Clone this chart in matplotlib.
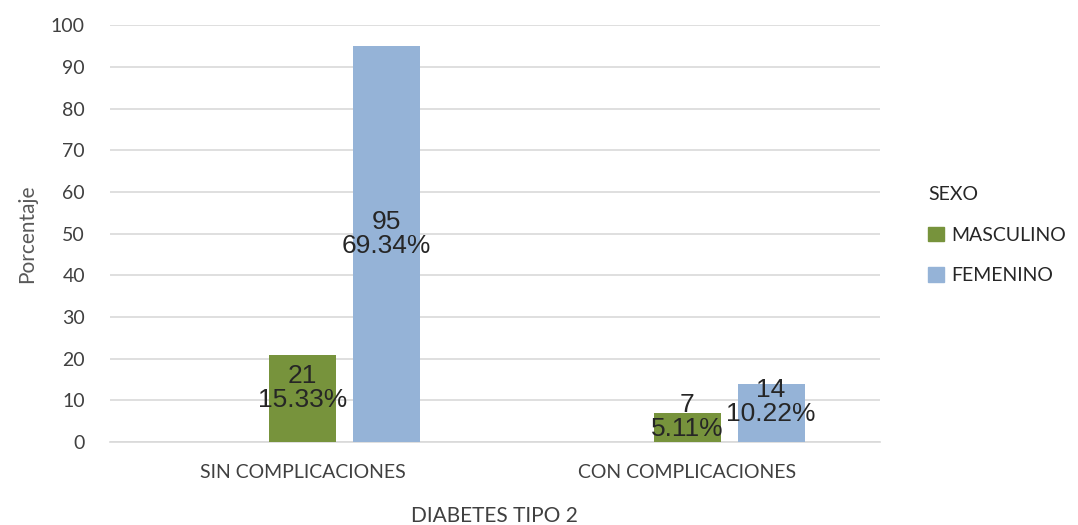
import matplotlib
matplotlib.use("Agg")
import matplotlib.pyplot as plt
from matplotlib.patches import Patch
import numpy as np

categories = ["SIN COMPLICACIONES", "CON COMPLICACIONES"]
series_names = ["MASCULINO", "FEMENINO"]
masculino = [21, 7]
femenino = [95, 14]
masc_pct = ["15.33%", "5.11%"]
fem_pct = ["69.34%", "10.22%"]
yticks = list(range(0, 101, 10))

green = "#77933C"
blue = "#95B3D7"
grid = "#D9D9D9"
tick_font = "Lato"
label_font = "Liberation Sans"

fig = plt.figure(figsize=(10.78, 5.25), dpi=100)
ax = fig.add_axes([0.102, 0.158, 0.714, 0.794])

x = np.arange(len(categories))
w = 0.174
step = 0.218
b1 = ax.bar(x, masculino, width=w, color=green, zorder=3)
b2 = ax.bar(x + step, femenino, width=w, color=blue, zorder=3)

for bars, vals, pcts in [(b1, masculino, masc_pct), (b2, femenino, fem_pct)]:
    for rect, v, p in zip(bars, vals, pcts):
        ax.text(rect.get_x() + rect.get_width() / 2, v / 2 + 2.5, f"{v}\n{p}",
                ha="center", va="center", fontsize=19, family=label_font,
                color="#262626", linespacing=1.0, zorder=4)

ax.set_xlim(-0.5 + step / 2 - 0.109, 1.5 + step / 2 - 0.109)
ax.set_ylim(0, 100)
ax.set_yticks(yticks)
ax.set_xticks(x)
ax.set_xticklabels(categories)
ax.yaxis.grid(True, color=grid, linewidth=1.2, zorder=0)
for s in ["top", "right", "left"]:
    ax.spines[s].set_visible(False)
ax.spines["bottom"].set_color(grid)
ax.spines["bottom"].set_linewidth(1.2)
ax.tick_params(axis="both", length=0, colors="#595959")
ax.tick_params(axis="y", pad=18, labelsize=14)
ax.tick_params(axis="x", pad=16, labelsize=14)
for lab in ax.get_xticklabels() + ax.get_yticklabels():
    lab.set_family(tick_font)
    lab.set_color("#404040")

ax.set_ylabel("Porcentaje", fontsize=15, family=tick_font, color="#595959", labelpad=10)
ax.set_xlabel("DIABETES TIPO 2", fontsize=15, family=tick_font, color="#404040", labelpad=18)

handles = [Patch(color=green), Patch(color=blue)]
leg = fig.legend(handles, series_names, title="SEXO", loc="center left",
                 bbox_to_anchor=(0.845, 0.552), frameon=False,
                 prop={"family": tick_font, "size": 14},
                 handlelength=0.8, handleheight=0.8, handletextpad=0.4,
                 labelspacing=1.2)
leg.get_title().set_family(tick_font)
leg.get_title().set_fontsize(14)
leg.get_title().set_color("#262626")
leg._legend_box.align = "left"
for t in leg.get_texts():
    t.set_color("#262626")

fig.savefig("out.png", dpi=100)
